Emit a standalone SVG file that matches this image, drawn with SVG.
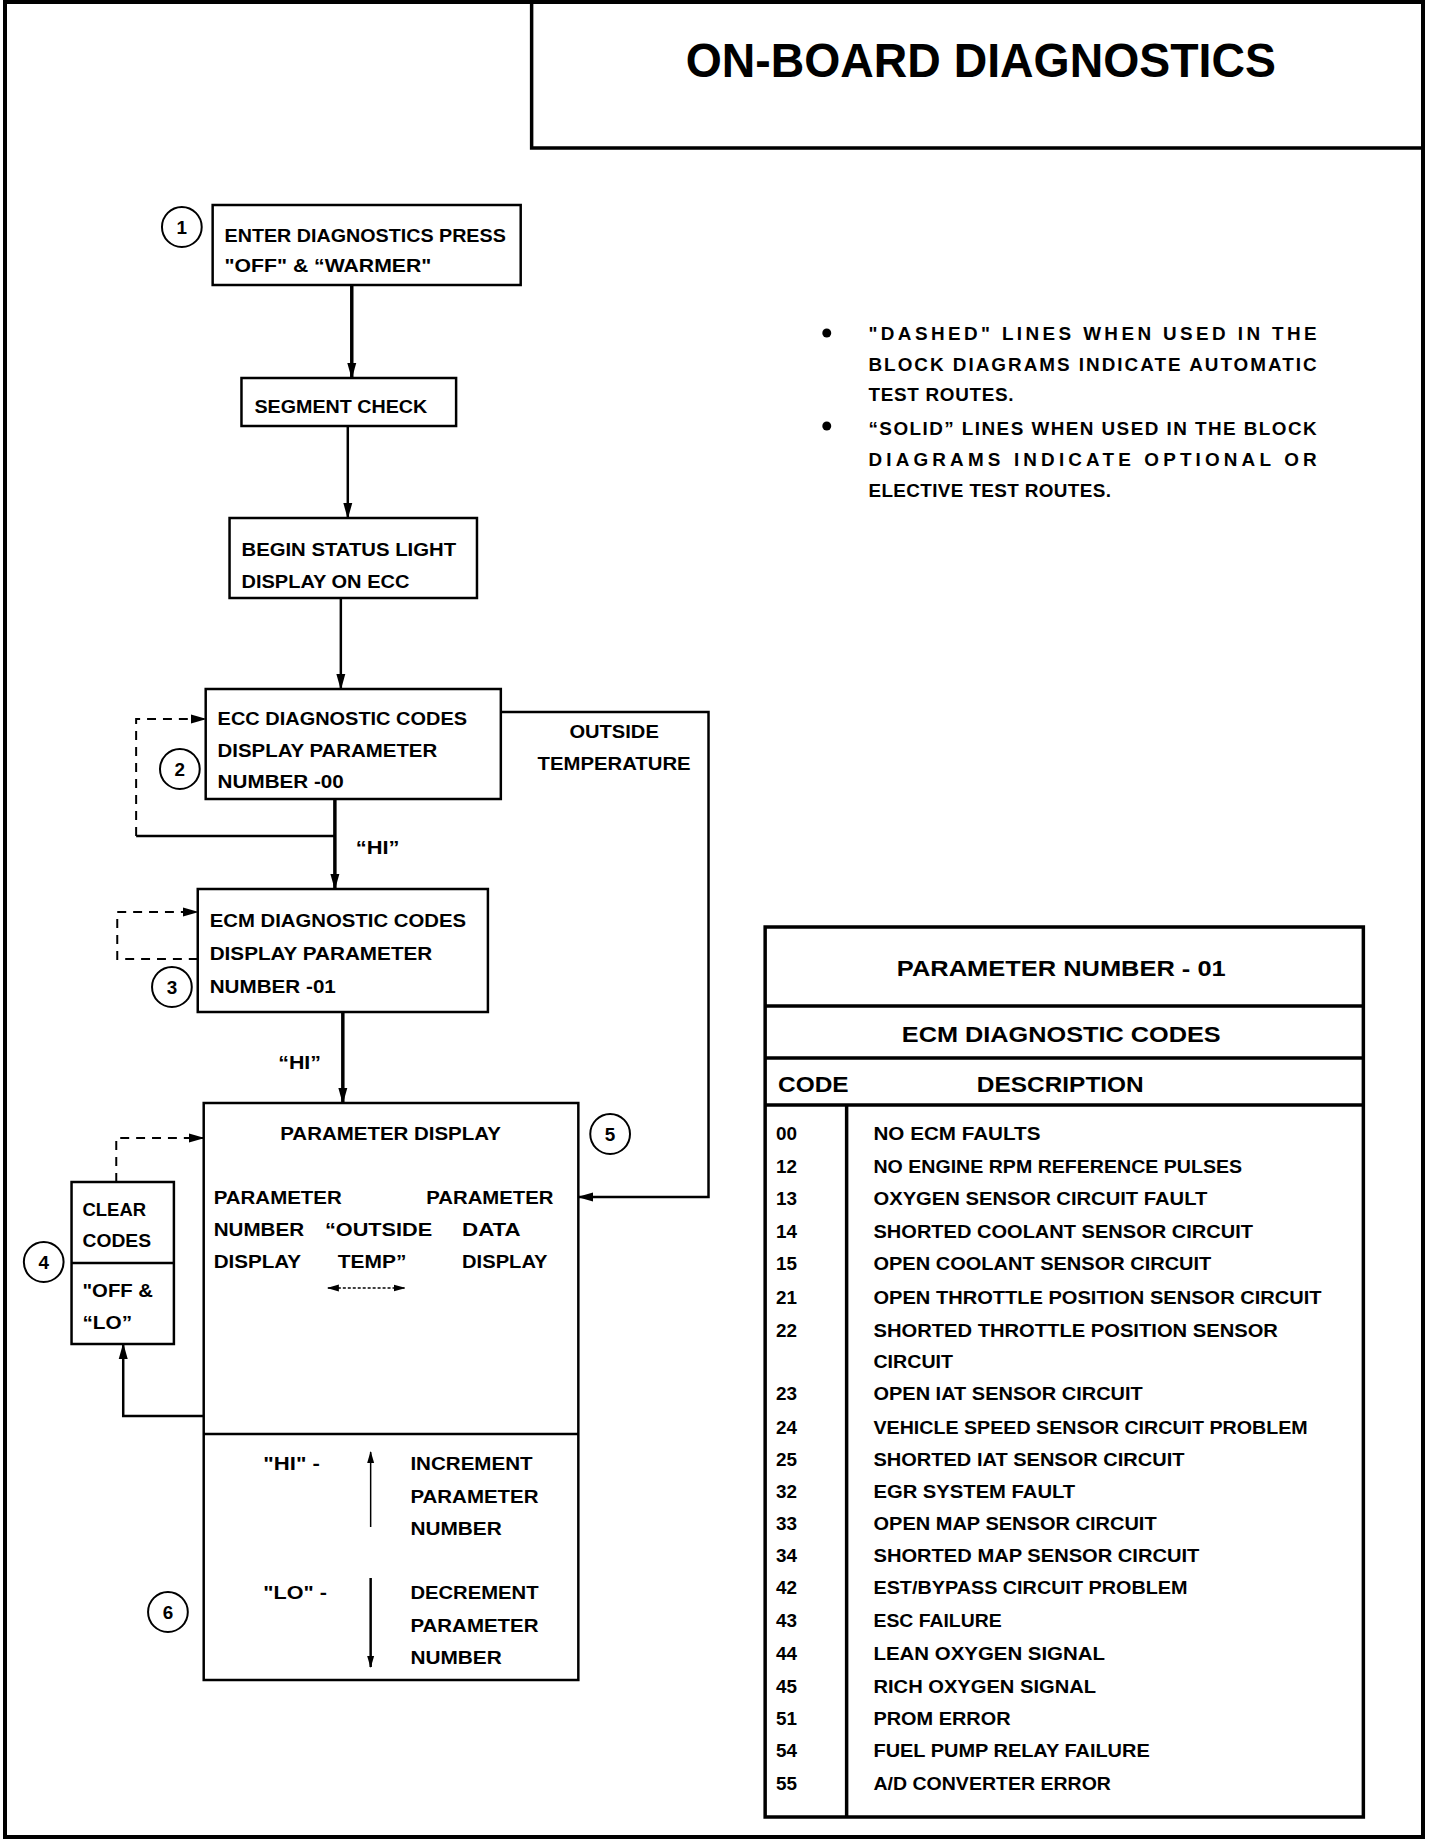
<svg xmlns="http://www.w3.org/2000/svg" width="1440" height="1840" viewBox="0 0 1440 1840">
<style>
text{font-family:"Liberation Sans",Arial,sans-serif;font-weight:bold;fill:#000}
.t{font-size:19px}
.n{font-size:19px}
.box{fill:#fff;stroke:#000;stroke-width:2.5}
.circ{fill:none;stroke:#000;stroke-width:2}
.ln{fill:none;stroke:#000;stroke-width:2.5}
.thk{fill:none;stroke:#000;stroke-width:3.5}
.dsh{fill:none;stroke:#000;stroke-width:2;stroke-dasharray:9,7}
.thin{fill:none;stroke:#000;stroke-width:1.5}
.tb{fill:none;stroke:#000;stroke-width:3.5}
</style>
<defs>
<marker id="ah" markerUnits="userSpaceOnUse" markerWidth="16" markerHeight="10" refX="15" refY="5" orient="auto-start-reverse">
<path d="M0,0.5 L16,5 L0,9.5 z" fill="#000"/>
</marker>
<marker id="ahs" markerUnits="userSpaceOnUse" markerWidth="12" markerHeight="8" refX="11" refY="4" orient="auto-start-reverse">
<path d="M0,0.5 L12,4 L0,7.5 z" fill="#000"/>
</marker>
</defs>
<rect width="1440" height="1840" fill="#fff"/>
<rect x="5" y="2" width="1418" height="1835" fill="none" stroke="#000" stroke-width="4"/>
<g transform="scale(0.9937 1)">
<g id="title">
<path d="M535,2 V148 H1432" class="tb"/>
<text x="690" y="77" font-size="48" textLength="594" lengthAdjust="spacingAndGlyphs">ON-BOARD DIAGNOSTICS</text>
</g>
<g id="notes" class="t">
<circle cx="832" cy="333" r="4.5" fill="#000"/>
<circle cx="832" cy="426" r="4.5" fill="#000"/>
<text x="874" y="340" textLength="451" lengthAdjust="spacing">"DASHED" LINES WHEN USED IN THE</text>
<text x="874" y="371" textLength="451" lengthAdjust="spacing">BLOCK DIAGRAMS INDICATE AUTOMATIC</text>
<text x="874" y="401" textLength="146" lengthAdjust="spacing">TEST ROUTES.</text>
<text x="874" y="435" textLength="451" lengthAdjust="spacing">“SOLID” LINES WHEN USED IN THE BLOCK</text>
<text x="874" y="466" textLength="451" lengthAdjust="spacing">DIAGRAMS INDICATE OPTIONAL OR</text>
<text x="874" y="497" textLength="244" lengthAdjust="spacing">ELECTIVE TEST ROUTES.</text>
</g>
<g id="connectors">
<line x1="354" y1="285" x2="354" y2="378" class="thk" marker-end="url(#ah)"/>
<line x1="350" y1="426" x2="350" y2="518" class="ln" marker-end="url(#ah)"/>
<line x1="343" y1="598" x2="343" y2="689" class="ln" marker-end="url(#ah)"/>
<line x1="337" y1="799" x2="337" y2="889" class="thk" marker-end="url(#ah)"/>
<path d="M337,836 H137" class="ln"/>
<path d="M137,836 V719 H207" class="dsh" marker-end="url(#ah)"/>
<path d="M199,959 H118 V912 H199" class="dsh" marker-end="url(#ah)"/>
<line x1="345" y1="1012" x2="345" y2="1103" class="thk" marker-end="url(#ah)"/>
<path d="M504,712 H713 V1197 H582" class="ln" marker-end="url(#ah)"/>
<path d="M117,1182 V1138 H205" class="dsh" marker-end="url(#ah)"/>
<path d="M205,1416 H124 V1344" class="ln" marker-end="url(#ah)"/>
<text x="358" y="854" class="t" textLength="44" lengthAdjust="spacingAndGlyphs">“HI”</text>
<text x="280" y="1069" class="t" textLength="43" lengthAdjust="spacingAndGlyphs">“HI”</text>
<text x="573" y="738" class="t" textLength="90" lengthAdjust="spacingAndGlyphs">OUTSIDE</text>
<text x="541" y="770" class="t" textLength="154" lengthAdjust="spacingAndGlyphs">TEMPERATURE</text>
</g>
<g id="node1">
<rect x="214" y="205" width="310" height="80" class="box"/>
<circle cx="183" cy="227" r="20" class="circ"/>
<text x="183" y="234" class="n" text-anchor="middle">1</text>
<text x="226" y="242" class="t" textLength="283" lengthAdjust="spacingAndGlyphs">ENTER DIAGNOSTICS PRESS</text>
<text x="226" y="272" class="t" textLength="208" lengthAdjust="spacingAndGlyphs">"OFF" &amp; “WARMER"</text>
</g>
<g id="segment-check">
<rect x="243" y="378" width="216" height="48" class="box"/>
<text x="256" y="413" class="t" textLength="174" lengthAdjust="spacingAndGlyphs">SEGMENT CHECK</text>
</g>
<g id="status-light">
<rect x="231" y="518" width="249" height="80" class="box"/>
<text x="243" y="556" class="t" textLength="216" lengthAdjust="spacingAndGlyphs">BEGIN STATUS LIGHT</text>
<text x="243" y="588" class="t" textLength="169" lengthAdjust="spacingAndGlyphs">DISPLAY ON ECC</text>
</g>
<g id="node2">
<rect x="207" y="689" width="297" height="110" class="box"/>
<circle cx="181" cy="769" r="20" class="circ"/>
<text x="181" y="776" class="n" text-anchor="middle">2</text>
<text x="219" y="725" class="t" textLength="251" lengthAdjust="spacingAndGlyphs">ECC DIAGNOSTIC CODES</text>
<text x="219" y="757" class="t" textLength="221" lengthAdjust="spacingAndGlyphs">DISPLAY PARAMETER</text>
<text x="219" y="788" class="t" textLength="127" lengthAdjust="spacingAndGlyphs">NUMBER -00</text>
</g>
<g id="node3">
<rect x="199" y="889" width="292" height="123" class="box"/>
<circle cx="173" cy="987" r="20" class="circ"/>
<text x="173" y="994" class="n" text-anchor="middle">3</text>
<text x="211" y="927" class="t" textLength="258" lengthAdjust="spacingAndGlyphs">ECM DIAGNOSTIC CODES</text>
<text x="211" y="960" class="t" textLength="224" lengthAdjust="spacingAndGlyphs">DISPLAY PARAMETER</text>
<text x="211" y="993" class="t" textLength="127" lengthAdjust="spacingAndGlyphs">NUMBER -01</text>
</g>
<g id="node4">
<rect x="72" y="1182" width="103" height="162" class="box"/>
<line x1="72" y1="1263" x2="175" y2="1263" class="ln"/>
<circle cx="44" cy="1262" r="20" class="circ"/>
<text x="44" y="1269" class="n" text-anchor="middle">4</text>
<text x="83" y="1216" class="t" textLength="64" lengthAdjust="spacingAndGlyphs">CLEAR</text>
<text x="83" y="1247" class="t" textLength="69" lengthAdjust="spacingAndGlyphs">CODES</text>
<text x="83" y="1297" class="t" textLength="71" lengthAdjust="spacingAndGlyphs">"OFF &amp;</text>
<text x="83" y="1329" class="t" textLength="50" lengthAdjust="spacingAndGlyphs">“LO”</text>
</g>
<g id="node5">
<rect x="205" y="1103" width="377" height="577" class="box"/>
<line x1="205" y1="1434" x2="582" y2="1434" class="ln"/>
<circle cx="614" cy="1134" r="20" class="circ"/>
<text x="614" y="1141" class="n" text-anchor="middle">5</text>
<text x="282" y="1140" class="t" textLength="222" lengthAdjust="spacingAndGlyphs">PARAMETER DISPLAY</text>
<text x="215" y="1204" class="t" textLength="129" lengthAdjust="spacingAndGlyphs">PARAMETER</text>
<text x="215" y="1236" class="t" textLength="91" lengthAdjust="spacingAndGlyphs">NUMBER</text>
<text x="215" y="1268" class="t" textLength="88" lengthAdjust="spacingAndGlyphs">DISPLAY</text>
<text x="327" y="1236" class="t" textLength="108" lengthAdjust="spacingAndGlyphs">“OUTSIDE</text>
<text x="340" y="1268" class="t" textLength="69" lengthAdjust="spacingAndGlyphs">TEMP”</text>
<text x="429" y="1204" class="t" textLength="128" lengthAdjust="spacingAndGlyphs">PARAMETER</text>
<text x="465" y="1236" class="t" textLength="59" lengthAdjust="spacingAndGlyphs">DATA</text>
<text x="465" y="1268" class="t" textLength="86" lengthAdjust="spacingAndGlyphs">DISPLAY</text>
<line x1="330" y1="1288" x2="407" y2="1288" class="thin" stroke-dasharray="3,2" marker-start="url(#ahs)" marker-end="url(#ahs)"/>
</g>
<g id="node6">
<circle cx="169" cy="1612" r="20" class="circ"/>
<text x="169" y="1619" class="n" text-anchor="middle">6</text>
<text x="265" y="1470" class="t" textLength="57" lengthAdjust="spacingAndGlyphs">"HI" -</text>
<text x="265" y="1599" class="t" textLength="64" lengthAdjust="spacingAndGlyphs">"LO" -</text>
<line x1="373" y1="1527" x2="373" y2="1452" class="thin" marker-end="url(#ahs)"/>
<line x1="373" y1="1578" x2="373" y2="1667" class="ln" marker-end="url(#ahs)"/>
<text x="413" y="1470" class="t" textLength="123" lengthAdjust="spacingAndGlyphs">INCREMENT</text>
<text x="413" y="1503" class="t" textLength="129" lengthAdjust="spacingAndGlyphs">PARAMETER</text>
<text x="413" y="1535" class="t" textLength="92" lengthAdjust="spacingAndGlyphs">NUMBER</text>
<text x="413" y="1599" class="t" textLength="129" lengthAdjust="spacingAndGlyphs">DECREMENT</text>
<text x="413" y="1632" class="t" textLength="129" lengthAdjust="spacingAndGlyphs">PARAMETER</text>
<text x="413" y="1664" class="t" textLength="92" lengthAdjust="spacingAndGlyphs">NUMBER</text>
</g>
<g id="code-table">
<rect x="770" y="927" width="602" height="890" class="tb"/>
<line x1="770" y1="1006" x2="1372" y2="1006" class="tb"/>
<line x1="770" y1="1058" x2="1372" y2="1058" class="tb"/>
<line x1="770" y1="1105" x2="1372" y2="1105" class="tb"/>
<line x1="852" y1="1105" x2="852" y2="1817" class="tb"/>
<text x="1068" y="976" font-size="22" text-anchor="middle" textLength="331" lengthAdjust="spacingAndGlyphs">PARAMETER NUMBER - 01</text>
<text x="1068" y="1042" font-size="22" text-anchor="middle" textLength="321" lengthAdjust="spacingAndGlyphs">ECM DIAGNOSTIC CODES</text>
<text x="783" y="1092" font-size="22" textLength="71" lengthAdjust="spacingAndGlyphs">CODE</text>
<text x="983" y="1092" font-size="22" textLength="168" lengthAdjust="spacingAndGlyphs">DESCRIPTION</text>
<g class="t">
<text x="781" y="1140">00</text><text x="879" y="1140" textLength="168" lengthAdjust="spacingAndGlyphs">NO ECM FAULTS</text>
<text x="781" y="1173">12</text><text x="879" y="1173" textLength="371" lengthAdjust="spacingAndGlyphs">NO ENGINE RPM REFERENCE PULSES</text>
<text x="781" y="1205">13</text><text x="879" y="1205" textLength="336" lengthAdjust="spacingAndGlyphs">OXYGEN SENSOR CIRCUIT FAULT</text>
<text x="781" y="1238">14</text><text x="879" y="1238" textLength="382" lengthAdjust="spacingAndGlyphs">SHORTED COOLANT SENSOR CIRCUIT</text>
<text x="781" y="1270">15</text><text x="879" y="1270" textLength="340" lengthAdjust="spacingAndGlyphs">OPEN COOLANT SENSOR CIRCUIT</text>
<text x="781" y="1304">21</text><text x="879" y="1304" textLength="451" lengthAdjust="spacingAndGlyphs">OPEN THROTTLE POSITION SENSOR CIRCUIT</text>
<text x="781" y="1337">22</text><text x="879" y="1337" textLength="407" lengthAdjust="spacingAndGlyphs">SHORTED THROTTLE POSITION SENSOR</text>
<text x="879" y="1368" textLength="80" lengthAdjust="spacingAndGlyphs">CIRCUIT</text>
<text x="781" y="1400">23</text><text x="879" y="1400" textLength="271" lengthAdjust="spacingAndGlyphs">OPEN IAT SENSOR CIRCUIT</text>
<text x="781" y="1434">24</text><text x="879" y="1434" textLength="437" lengthAdjust="spacingAndGlyphs">VEHICLE SPEED SENSOR CIRCUIT PROBLEM</text>
<text x="781" y="1466">25</text><text x="879" y="1466" textLength="313" lengthAdjust="spacingAndGlyphs">SHORTED IAT SENSOR CIRCUIT</text>
<text x="781" y="1498">32</text><text x="879" y="1498" textLength="203" lengthAdjust="spacingAndGlyphs">EGR SYSTEM FAULT</text>
<text x="781" y="1530">33</text><text x="879" y="1530" textLength="285" lengthAdjust="spacingAndGlyphs">OPEN MAP SENSOR CIRCUIT</text>
<text x="781" y="1562">34</text><text x="879" y="1562" textLength="328" lengthAdjust="spacingAndGlyphs">SHORTED MAP SENSOR CIRCUIT</text>
<text x="781" y="1594">42</text><text x="879" y="1594" textLength="316" lengthAdjust="spacingAndGlyphs">EST/BYPASS CIRCUIT PROBLEM</text>
<text x="781" y="1627">43</text><text x="879" y="1627" textLength="129" lengthAdjust="spacingAndGlyphs">ESC FAILURE</text>
<text x="781" y="1660">44</text><text x="879" y="1660" textLength="233" lengthAdjust="spacingAndGlyphs">LEAN OXYGEN SIGNAL</text>
<text x="781" y="1693">45</text><text x="879" y="1693" textLength="224" lengthAdjust="spacingAndGlyphs">RICH OXYGEN SIGNAL</text>
<text x="781" y="1725">51</text><text x="879" y="1725" textLength="138" lengthAdjust="spacingAndGlyphs">PROM ERROR</text>
<text x="781" y="1757">54</text><text x="879" y="1757" textLength="278" lengthAdjust="spacingAndGlyphs">FUEL PUMP RELAY FAILURE</text>
<text x="781" y="1790">55</text><text x="879" y="1790" textLength="239" lengthAdjust="spacingAndGlyphs">A/D CONVERTER ERROR</text>
</g>
</g>
</g>
</svg>
